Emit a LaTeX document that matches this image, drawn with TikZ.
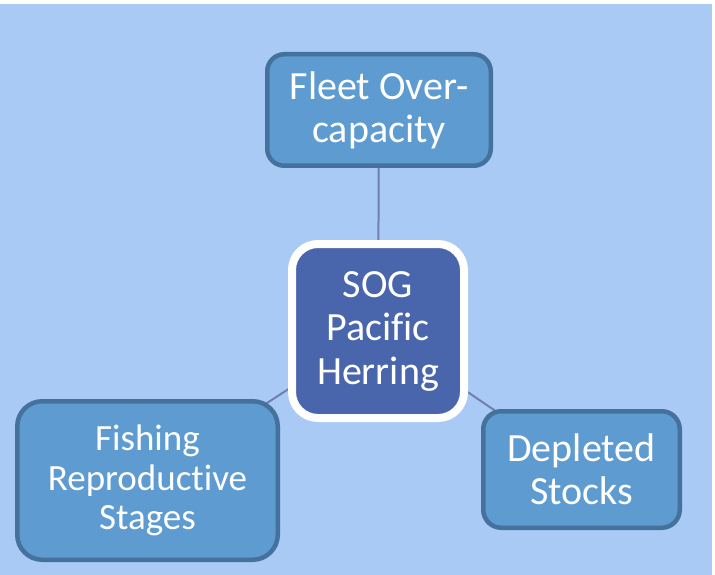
\documentclass[tikz,border=0pt]{standalone}
\usepackage{fontspec}
\setmainfont{Carlito}[Ligatures={NoCommon,NoContextual}]
\usetikzlibrary{backgrounds}
\definecolor{sogback}{RGB}{170,202,246}
\definecolor{sogfill}{RGB}{94,155,209}
\definecolor{sogedge}{RGB}{68,114,156}
\definecolor{sogcore}{RGB}{73,102,172}
\definecolor{soglink}{RGB}{112,127,176}

\begin{document}
\begin{tikzpicture}[x=1pt,y=-1pt,
    issue/.style={draw=sogedge,line width=4.5pt,fill=sogfill,text=white,align=center,inner sep=0pt,font=\fontsize{40}{43}\selectfont},
    core/.style={draw=white,line width=8pt,fill=sogcore,text=white,align=center,inner sep=0pt,rounded corners=26pt,minimum width=172pt,minimum height=174pt,font=\fontsize{40}{43.5}\selectfont}]
\useasboundingbox (0,0) rectangle (715,575);

\node[core] (herring) at (378,331) {SOG\\Pacific\\Herring};
\node[issue,minimum width=223.5pt,minimum height=111.5pt,rounded corners=17pt] (fleet) at (379,110) {Fleet Over-\\capacity};
\node[issue,minimum width=260.5pt,minimum height=158.5pt,rounded corners=25pt,font=\fontsize{37}{39.5}\selectfont] (fishing) at (147.5,480.5) {Fishing\\Reproductive\\Stages};
\node[issue,minimum width=196.5pt,minimum height=116.5pt,rounded corners=18pt] (depleted) at (581.5,469.5) {Depleted\\Stocks};

\begin{scope}[on background layer]
\fill[white] (0,0) rectangle (715,575);
\fill[sogback] (0,4) rectangle (712,575);
\draw[soglink,line width=2pt] (herring.center) -- (fleet.center);
\draw[soglink,line width=2pt] (herring.center) -- (fishing.center);
\draw[soglink,line width=2pt] (herring.center) -- (depleted.center);
\end{scope}
\end{tikzpicture}
\end{document}
